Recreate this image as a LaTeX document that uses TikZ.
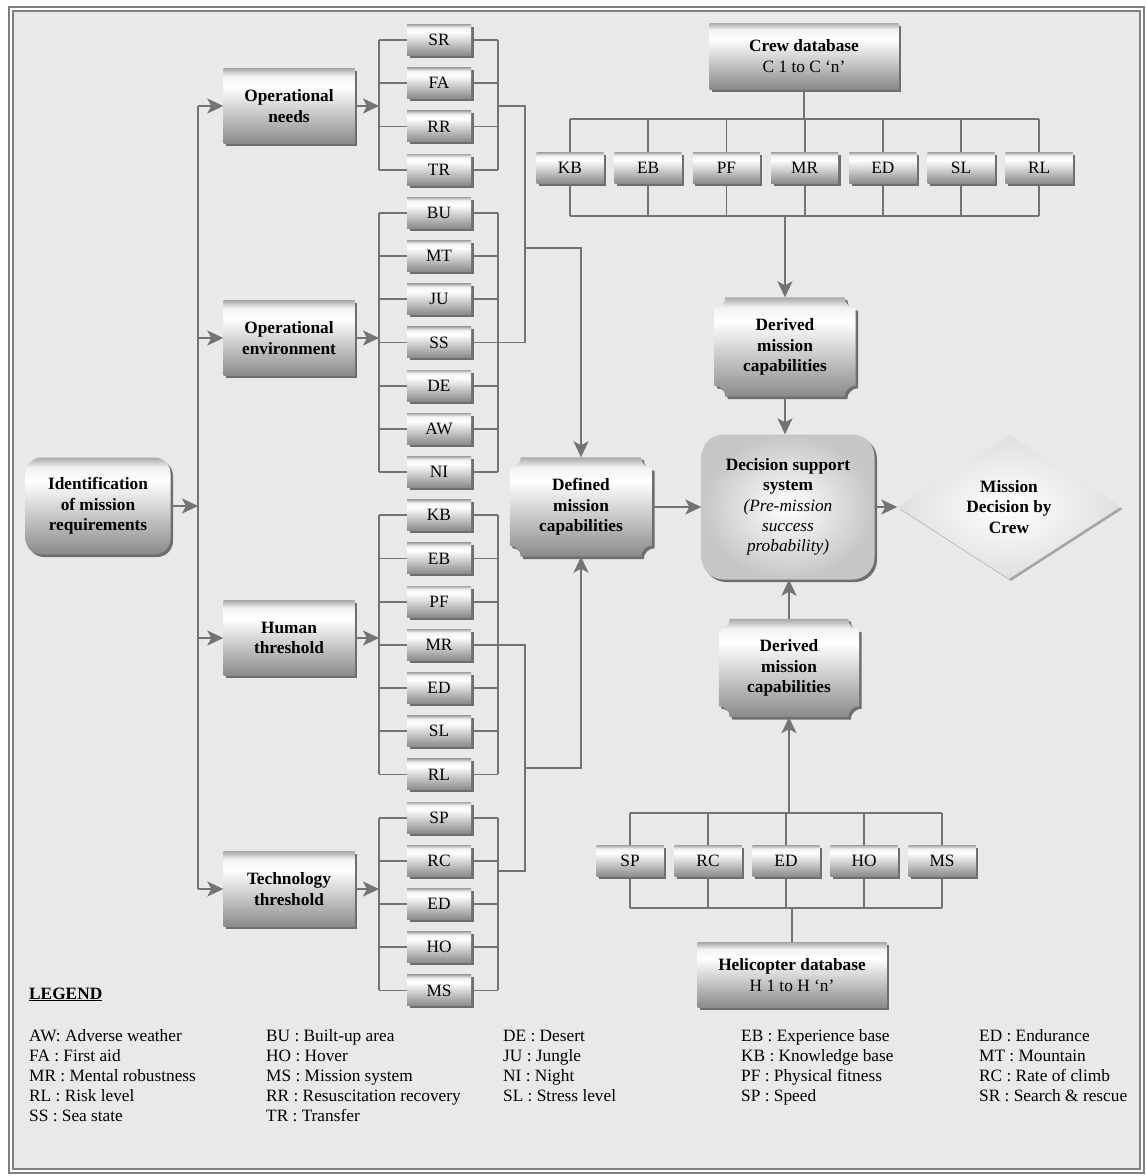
\documentclass[tikz,border=0pt]{standalone}
\usepackage{fontspec}
\setmainfont{Liberation Serif}
\usepackage{tikz}
\usetikzlibrary{arrows.meta,shapes,positioning,shadows,calc,backgrounds}
\usepackage{xcolor}
\definecolor{dfline}{RGB}{115,115,115}
\definecolor{dfpaper}{RGB}{233,233,233}
\definecolor{dfframe}{RGB}{128,128,128}
\definecolor{dfsteel}{RGB}{138,138,138}
\definecolor{dfsteeltop}{RGB}{170,170,170}
\definecolor{dfshadow}{RGB}{110,110,110}
\pgfdeclareverticalshading{metal}{100bp}{color(0bp)=(dfsteel); color(25bp)=(dfsteel); color(63bp)=(white); color(70bp)=(white!85!dfsteeltop); color(75bp)=(dfsteeltop); color(100bp)=(dfsteeltop)}
\newcommand{\boxfont}{\fontsize{17.3}{20.3}\selectfont}
\tikzstyle{wire} = [line width=1.8pt, color=dfline]
\tikzstyle{arrow} = [wire, -{Stealth[length=16pt,width=15pt,inset=4pt]}]
\tikzstyle{boxshadow} = [drop shadow={shadow xshift=2.5pt, shadow yshift=-2.5pt, fill=dfshadow, opacity=1}]
\tikzstyle{steelbox} = [rectangle, shade, shading=metal, boxshadow, align=center, inner sep=0pt, font=\boxfont\bfseries]
\tikzstyle{codebox} = [rectangle, shade, shading=metal, boxshadow, inner sep=0pt, minimum width=64pt, minimum height=31pt, font=\boxfont]
\tikzstyle{plaquetext} = [rectangle, align=center, inner sep=0pt, font=\boxfont\bfseries]
\tikzstyle{legtext} = [anchor=base west, inner sep=0pt, font=\boxfont]
% concave cornered box behind a plaquetext node
\newcommand{\plaqueshape}[1]{%
  \shade[shading=metal, boxshadow]
    ($(#1.north west)+(11,0)$) -- ($(#1.north east)+(-11,0)$)
    .. controls +(0,6) and +(-6,0) .. ($(#1.north east)+(0,11)$)
    -- ($(#1.south east)+(0,-11)$)
    .. controls +(-6,0) and +(0,-6) .. ($(#1.south east)+(-11,0)$)
    -- ($(#1.south west)+(11,0)$)
    .. controls +(0,-6) and +(6,0) .. ($(#1.south west)+(0,-11)$)
    -- ($(#1.north west)+(0,11)$)
    .. controls +(6,0) and +(0,6) .. ($(#1.north west)+(11,0)$) -- cycle;}

\begin{document}
\begin{tikzpicture}[x=1pt, y=-1pt]
\useasboundingbox (0,0) rectangle (1146,1176);
% Paper and frame
\begin{scope}[on background layer]
\fill[white] (0,0) rectangle (1146,1176);
\fill[dfpaper] (13,11) rectangle (1140,1169);
\draw[dfframe, line width=1.3pt] (9,7) rectangle (1144,1173);
\draw[dfframe, line width=1.3pt] (13,11) rectangle (1140,1169);
\end{scope}

% Requirement chain
\node[steelbox, rounded corners=16pt, minimum width=145pt, minimum height=97pt] (ident) at (98,506) {Identification\\of mission\\requirements};
\node[steelbox, minimum width=131pt, minimum height=75pt] (opneeds) at (289,106) {Operational\\needs};
\node[steelbox, minimum width=131pt, minimum height=75pt] (openv) at (289,338) {Operational\\environment};
\node[steelbox, minimum width=131pt, minimum height=75pt] (human) at (289,638) {Human\\threshold};
\node[steelbox, minimum width=131pt, minimum height=75pt] (tech) at (289,889) {Technology\\threshold};

% Requirement codes
\foreach \c [count=\i from 0] in {SR,FA,RR,TR,BU,MT,JU,SS,DE,AW,NI,KB,EB,PF,MR,ED,SL,RL,SP,RC,ED,HO,MS} {
    \node[codebox] (req\i) at (439,{40+43.2*\i}) {\c};
}
\coordinate (bus) at (198,0);
\coordinate (lx) at (379,0);
\coordinate (rx) at (498,0);
\coordinate (mx) at (525,0);
\foreach \i in {0,...,22} {
    \draw[wire] (req\i.west) -- (req\i.west -| lx);
    \draw[wire] (req\i.east) -- (req\i.east -| rx);
}
\foreach \a/\b in {0/3,4/10,11/17,18/22} {
    \draw[wire] (req\a.west -| lx) -- (req\b.west -| lx);
    \draw[wire] (req\a.east -| rx) -- (req\b.east -| rx);
}

% Bus and arrows into the categories
\draw[wire] (opneeds.west -| bus) -- (tech.west -| bus);
\draw[arrow] (ident.east) -- (ident.east -| bus);
\foreach \n in {opneeds,openv,human,tech} {
    \draw[arrow] (\n.west -| bus) -- (\n.west);
    \draw[arrow] (\n.east) -- (\n.east -| lx);
}

% Defined capabilities and decision
\node[plaquetext, minimum width=142pt, minimum height=99pt] (defmc) at (581,507) {Defined\\mission\\capabilities};
\node[rectangle, rounded corners=22pt, shade, inner color=white, outer color=gray!45, boxshadow, align=center, inner sep=0pt, minimum width=173pt, minimum height=145pt, font=\boxfont] (dss) at (788,507) {\textbf{Decision support}\\\textbf{system}\\\textit{(Pre-mission}\\\textit{success}\\\textit{probability)}};
\node[diamond, aspect=1.55, shade, inner color=white, outer color=gray!25, drop shadow={shadow xshift=2pt, shadow yshift=-2pt, fill=gray!70, opacity=1}, align=center, inner sep=0pt, minimum width=223pt, minimum height=144pt, font=\boxfont\bfseries] (decide) at (1009,507) {Mission\\Decision by\\Crew};

\coordinate (topjoin) at (525,248);
\coordinate (lowjoin) at (525,768);
\coordinate (techjoin) at (525,871);
\draw[wire] (opneeds.east -| rx) -| (req7.east -| mx) -- (req7.east -| rx);
\draw[wire] (req14.east -| rx) -| (techjoin) -- (techjoin -| rx);
\draw[arrow] (topjoin) -| (defmc.north);
\draw[arrow] (lowjoin) -| (defmc.south);
\draw[arrow] (defmc.east) -- (dss.west);
\draw[arrow] (dss.east) -- (decide.west);

% Crew database
\node[steelbox, minimum width=189pt, minimum height=66pt, font=\boxfont] (crew) at (804,56) {\textbf{Crew database}\\C 1 to C `n'};
\foreach \c [count=\i from 0] in {KB,EB,PF,MR,ED,SL,RL} {
    \node[codebox, minimum width=67pt] (skill\i) at ({570+78.2*\i},168) {\c};
}
\coordinate (crewtop) at (0,119);
\coordinate (crewbot) at (0,216);
\draw[wire] (crew.south) -- (crew.south |- crewtop);
\draw[wire] (skill0.north |- crewtop) -- (skill6.north |- crewtop);
\draw[wire] (skill0.south |- crewbot) -- (skill6.south |- crewbot);
\foreach \i in {0,...,6} {
    \draw[wire] (skill\i.north) -- (skill\i.north |- crewtop);
    \draw[wire] (skill\i.south) -- (skill\i.south |- crewbot);
}
\node[plaquetext, minimum width=141pt, minimum height=99pt] (derivedup) at (785,347) {Derived\\mission\\capabilities};
\draw[arrow] (derivedup.north |- crewbot) -- (derivedup.north);
\draw[arrow] (derivedup.south) -- (derivedup.south |- dss.north);

% Helicopter database
\node[plaquetext, minimum width=140pt, minimum height=98pt] (deriveddown) at (789,668) {Derived\\mission\\capabilities};
\foreach \c [count=\i from 0] in {SP,RC,ED,HO,MS} {
    \node[codebox, minimum width=67pt] (heli\i) at ({630+78*\i},861) {\c};
}
\node[steelbox, minimum width=189pt, minimum height=65pt, font=\boxfont] (helidb) at (792,975) {\textbf{Helicopter database}\\H 1 to H `n'};
\coordinate (helitop) at (0,813);
\coordinate (helibot) at (0,908);
\draw[wire] (heli0.north |- helitop) -- (heli4.north |- helitop);
\draw[wire] (heli0.south |- helibot) -- (heli4.south |- helibot);
\foreach \i in {0,...,4} {
    \draw[wire] (heli\i.north) -- (heli\i.north |- helitop);
    \draw[wire] (heli\i.south) -- (heli\i.south |- helibot);
}
\draw[wire] (helidb.north) -- (helidb.north |- helibot);
\draw[arrow] (deriveddown.south |- helitop) -- (deriveddown.south);
\draw[arrow] (deriveddown.north) -- (deriveddown.north |- dss.south);

% Concave boxes behind their text
\begin{scope}[on background layer]
\plaqueshape{defmc}
\plaqueshape{derivedup}
\plaqueshape{deriveddown}
\end{scope}

% Legend
\node[anchor=base west, inner sep=0pt, font=\boxfont\bfseries] (legend) at (29,999) {\underline{LEGEND}};
\foreach \t [count=\r from 0] in {AW: Adverse weather, FA : First aid, MR : Mental robustness, RL : Risk level, SS : Sea state} {
    \node[legtext] (lega\r) at (29,{1041+20.2*\r}) {\t};
}
\foreach \t [count=\r from 0] in {BU : Built-up area, HO : Hover, MS : Mission system, RR : Resuscitation recovery, TR : Transfer} {
    \node[legtext] (legb\r) at (266,{1041+20.2*\r}) {\t};
}
\foreach \t [count=\r from 0] in {DE : Desert, JU : Jungle, NI : Night, SL : Stress level} {
    \node[legtext] (legc\r) at (503,{1041+20.2*\r}) {\t};
}
\foreach \t [count=\r from 0] in {EB : Experience base, KB : Knowledge base, PF : Physical fitness, SP : Speed} {
    \node[legtext] (legd\r) at (741,{1041+20.2*\r}) {\t};
}
\foreach \t [count=\r from 0] in {ED : Endurance, MT : Mountain, RC : Rate of climb, SR : Search \& rescue} {
    \node[legtext] (lege\r) at (979,{1041+20.2*\r}) {\t};
}
\end{tikzpicture}
\end{document}
